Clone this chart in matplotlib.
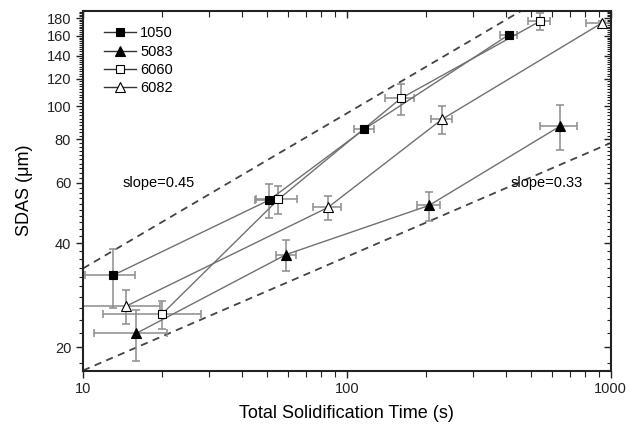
import numpy as np
import matplotlib.pyplot as plt
from matplotlib.ticker import FixedLocator, NullFormatter

plt.rcParams['font.family'] = ['Liberation Sans', 'DejaVu Sans']

# data
t_1050 = [13.0, 50.8, 116.5, 410]
d_1050 = [32.3, 53.4, 85.7, 160.8]
tx_1050 = [2.8, 5.8, 10, 30]
dy_1050 = [6.3, 6.0, 1.5, 3]

t_5083 = [15.9, 58.9, 205, 642]
d_5083 = [21.9, 37.1, 51.5, 87.4]
tx_5083 = [4.9, 5, 20, 102]
dy_5083 = [3.7, 3.8, 5, 13]

t_6060 = [19.9, 55.0, 160, 538]
d_6060 = [24.9, 53.6, 105.2, 176]
tx_6060 = [8, 9.7, 20, 52]
dy_6060 = [2.3, 5, 11, 10]

t_6082 = [14.6, 84.8, 229.7, 924]
d_6082 = [26.3, 50.8, 91.6, 174]
tx_6082 = [5, 10.5, 21, 120]
dy_6082 = [2.9, 4, 8.7, 3]

upper_a, upper_k = 33.8, 0.45
lower_a, lower_k = 17.1, 0.33

fig = plt.figure(figsize=(6.36, 4.3), dpi=100)
ax = fig.add_axes([0.1305, 0.138, 0.8297, 0.837])

series = [
    ("1050", t_1050, d_1050, tx_1050, dy_1050, "s", "black"),
    ("5083", t_5083, d_5083, tx_5083, dy_5083, "^", "black"),
    ("6060", t_6060, d_6060, tx_6060, dy_6060, "s", "white"),
    ("6082", t_6082, d_6082, tx_6082, dy_6082, "^", "white"),
]

for name, t, d, tx, dy, m, fc in series:
    ax.errorbar(t, d, xerr=tx, yerr=dy, fmt="none", ecolor="#8c8c8c",
                elinewidth=1.1, capsize=3, capthick=1.1, zorder=2)
    ax.plot(t, d, "-", color="#707070", lw=1.0, zorder=3)
    ax.plot(t, d, linestyle="none", marker=m, ms=6.5 if m == "^" else 5.5,
            mfc=fc, mec="black", mew=0.8, zorder=4)

# legend handles
for name, t, d, tx, dy, m, fc in series:
    ax.plot([], [], "-", color="#333333", lw=1.0, marker=m,
            ms=6.5 if m == "^" else 5.5, mfc=fc, mec="black", mew=0.8, label=name)

xs = np.array([10, 1000])
ax.plot(xs, upper_a * (xs / 10) ** upper_k, "--", color="#444444", lw=1.3,
        dashes=(4, 3), zorder=1)
ax.plot(xs, lower_a * (xs / 10) ** lower_k, "--", color="#444444", lw=1.3,
        dashes=(4, 3), zorder=1)

ax.text(0.075, 0.522, "slope=0.45", transform=ax.transAxes, fontsize=10.5, va="center")
ax.text(0.81, 0.522, "slope=0.33", transform=ax.transAxes, fontsize=10.5, va="center")

ax.set_xscale("log")
ax.set_yscale("log")
ax.set_xlim(10, 1000)
ax.set_ylim(17.08, 189)

ax.xaxis.set_major_locator(FixedLocator([10, 100, 1000]))
ax.xaxis.set_minor_locator(FixedLocator(list(range(20, 100, 10)) + list(range(200, 1000, 100))))
ax.set_xticklabels(["10", "100", "1000"])
ax.xaxis.set_minor_formatter(NullFormatter())

yt = [20, 40, 60, 80, 100, 120, 140, 160, 180]
ax.yaxis.set_major_locator(FixedLocator(yt))
ax.set_yticklabels([str(v) for v in yt])
ax.yaxis.set_minor_locator(FixedLocator([v for v in range(18, 190, 2) if v not in yt]))
ax.yaxis.set_minor_formatter(NullFormatter())

ax.tick_params(axis="both", which="major", labelsize=10.5, direction="out",
               length=5, width=1.0, colors="#222222")
ax.tick_params(axis="both", which="minor", direction="out", length=3, width=0.8,
               colors="#222222")
ax.tick_params(axis="x", which="minor", length=4)
ax.tick_params(top=True, right=True, which="both")
for tk in ax.xaxis.get_major_ticks() + ax.xaxis.get_minor_ticks():
    tk.tick2line.set_marker(3)
for tk in ax.yaxis.get_major_ticks() + ax.yaxis.get_minor_ticks():
    tk.tick2line.set_marker(0)

for sp in ax.spines.values():
    sp.set_linewidth(1.5)
    sp.set_color("#222222")

ax.set_xlabel("Total Solidification Time (s)", fontsize=13, labelpad=6)
ax.set_ylabel("SDAS (\u03bcm)", fontsize=13, labelpad=10)

ax.legend(loc="upper left", frameon=False, fontsize=10.5, handlelength=2.2,
          handletextpad=0.3, labelspacing=0.3, borderaxespad=0.3,
          bbox_to_anchor=(0.02, 0.985))

fig.savefig("out.png", dpi=100)
